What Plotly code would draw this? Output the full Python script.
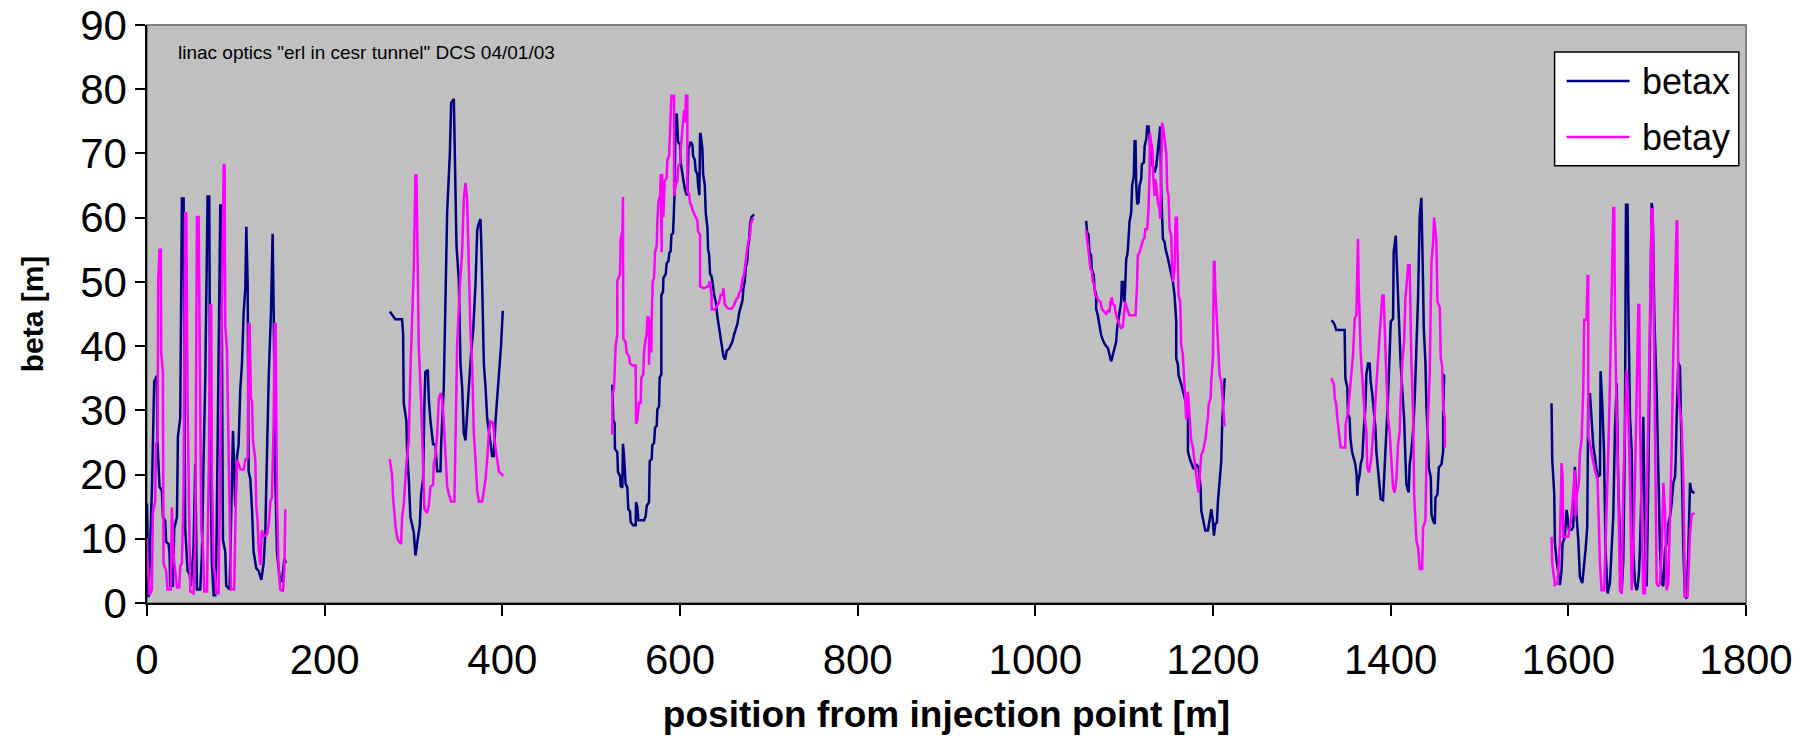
import plotly.graph_objects as go

# ---------------- data (position [m], beta [m]) ----------------
# segment 1
bx_pos_1 = [0, 1.7, 5.5, 8.1, 11.1, 11.8, 14.1, 16.8, 17.9, 20.5, 21.6, 24.3, 25.4, 26.1, 29.1, 30.7, 33.7, 34.8, 37.4, 38.2,
            39.3, 41.2, 41.9, 43.0, 45.7, 47.9, 49.4, 52.4, 54.3, 56.2, 59.9, 61.8, 63.7, 65.6, 68.2, 70.1, 71.2, 73.1, 75.0, 76.8,
            78.0, 79.9, 82.5, 83.6, 85.5, 88.1, 89.2, 93.0, 94.9, 96.8, 99.4, 101.3, 103.1, 105.0, 106.9, 108.8, 110.7, 111.8, 113.3, 114.4,
            116.3, 118.2, 120.0, 123.0, 125.7, 128.7, 131.3, 133.2, 134.3, 137.0, 139.6, 141.4, 142.6, 144.5, 146.3, 149.3, 151.9, 154.6, 156.5]
bx_val_1 = [15.5, 0.9, 17.5, 34.5, 35.4, 25.0, 18.1, 17.5, 13.4, 12.8, 9.5, 9.2, 7.7, 2.7, 2.7, 11.6, 13.4, 25.9, 28.8, 39.0,
            63.0, 63.0, 31.2, 11.6, 5.0, 4.5, 2.7, 8.6, 21.7, 2.1, 2.1, 7.4, 22.3, 34.8, 63.3, 63.3, 23.5, 6.2, 1.2, 1.2,
            6.2, 27.1, 61.9, 61.9, 9.8, 8.0, 2.7, 2.1, 15.0, 26.8, 15.0, 22.8, 24.6, 33.3, 37.2, 45.2, 49.1, 58.6, 49.7, 20.5,
            19.3, 14.6, 8.0, 5.4, 5.0, 3.6, 6.2, 11.0, 18.4, 35.1, 45.5, 57.5, 45.5, 19.3, 8.0, 3.8, 3.3, 6.9, 6.2]
by_pos_1 = [0, 0.6, 2.9, 5.5, 6.6, 9.2, 10.0, 11.9, 12.6, 14.1, 15.6, 16.0, 17.9, 18.6, 21.6, 23.1, 26.9, 28.0, 29.9, 31.0,
            33.7, 36.3, 37.4, 39.3, 41.2, 43.0, 44.2, 45.7, 47.2, 48.7, 52.4, 54.3, 56.2, 58.1, 59.9, 61.1, 63.0, 64.5, 67.5, 69.7,
            71.2, 72.3, 73.1, 75.0, 76.8, 78.0, 80.6, 82.5, 84.4, 86.3, 87.4, 88.1, 90.0, 91.9, 93.0, 94.5, 98.2, 99.8, 101.3, 103.1,
            105.0, 108.8, 110.7, 113.3, 114.4, 115.5, 117.0, 118.2, 119.3, 121.9, 123.0, 124.5, 125.7, 127.5, 129.4, 131.3, 135.1, 137.0, 138.8, 140.7,
            142.6, 143.7, 144.8, 146.3, 148.2, 150.1, 153.1, 154.6, 155.7]
by_val_1 = [10.1, 6.5, 1.2, 2.1, 14.0, 15.8, 24.7, 25.3, 50.3, 55.0, 55.0, 39.0, 36.0, 6.2, 5.0, 2.1, 2.1, 14.9, 7.4, 6.2,
            2.4, 2.4, 5.7, 6.2, 17.5, 60.7, 60.7, 31.2, 11.6, 1.8, 1.5, 9.2, 60.1, 60.1, 31.2, 11.6, 8.6, 1.8, 1.8, 22.3,
            46.4, 46.4, 19.3, 5.7, 4.5, 1.5, 1.5, 25.3, 55.0, 68.2, 68.2, 43.1, 39.5, 18.1, 14.6, 2.1, 2.1, 14.6, 22.3, 21.7,
            20.8, 20.8, 22.3, 22.6, 43.4, 43.4, 31.8, 31.5, 25.3, 22.3, 15.2, 12.8, 8.6, 5.9, 11.3, 10.4, 10.7, 12.2, 15.8, 16.4,
            28.3, 43.4, 43.4, 16.4, 5.0, 2.1, 1.8, 5.0, 14.6]

# segment 2
bx_pos_2 = [273.3, 275.9, 277.8, 279.6, 287.1, 288.3, 289.0, 292.0, 292.8, 294.7, 296.5, 300.3, 302.2, 303.3, 304.8, 307.1, 308.6, 310.8, 312.3, 313.4,
            316.1, 317.2, 319.1, 322.1, 324.7, 326.6, 330.4, 331.1, 334.1, 336.0, 337.9, 340.9, 342.4, 345.4, 346.5, 348.4, 351.0, 352.9, 354.8, 356.6,
            358.5, 360.4, 362.3, 364.9, 367.2, 369.8, 371.7, 373.6, 375.4, 376.5, 378.4, 379.2, 381.1, 382.9, 388.6, 390.4, 392.3, 396.1, 398.5, 400.5]
bx_val_2 = [45.4, 44.9, 44.6, 44.2, 44.2, 41.9, 31.2, 28.3, 23.5, 19.3, 13.4, 11.0, 7.4, 8.6, 10.4, 12.2, 17.0, 19.3, 31.2, 36.0,
            36.3, 31.8, 28.3, 24.7, 24.7, 20.5, 20.5, 24.7, 33.6, 46.1, 61.0, 69.9, 77.9, 78.5, 68.7, 55.6, 50.3, 37.2, 33.6, 26.5,
            25.3, 28.8, 33.6, 39.0, 42.5, 49.7, 58.0, 59.2, 59.8, 55.0, 44.3, 37.2, 33.6, 28.8, 22.9, 22.9, 28.3, 35.4, 40.0, 45.5]
by_pos_2 = [273.3, 275.9, 277.0, 278.9, 280.0, 282.3, 286.0, 287.2, 289.0, 292.0, 294.7, 296.5, 298.4, 300.3, 302.2, 303.3, 304.8, 305.9, 308.6, 310.8,
            312.3, 315.3, 317.2, 319.1, 322.1, 322.8, 324.7, 326.6, 328.5, 330.4, 332.2, 334.1, 336.0, 337.9, 339.7, 342.4, 346.1, 347.3, 349.1, 352.1,
            354.8, 356.6, 358.5, 360.4, 362.3, 364.2, 366.0, 367.9, 369.8, 371.7, 373.6, 377.3, 379.2, 381.1, 382.9, 384.8, 386.7, 389.7, 391.2, 393.5,
            396.1, 401.0]
by_val_2 = [22.4, 19.9, 16.4, 14.0, 11.6, 9.8, 9.2, 13.4, 15.2, 21.7, 25.3, 36.0, 43.1, 52.0, 66.6, 66.6, 52.0, 40.1, 31.2, 20.5,
            14.6, 14.0, 15.2, 18.1, 18.4, 21.7, 22.9, 26.2, 31.8, 32.7, 31.8, 28.3, 22.3, 18.1, 17.0, 15.8, 15.8, 25.3, 40.1, 49.1,
            55.0, 62.8, 65.4, 62.8, 52.6, 41.9, 37.2, 26.5, 22.3, 17.5, 15.8, 15.8, 17.5, 19.3, 22.3, 26.5, 28.3, 28.0, 25.3, 22.9,
            20.5, 19.8]

# segment 3
bx_pos_3 = [523.8, 524.9, 526.4, 526.8, 529.4, 530.2, 532.5, 533.2, 535.1, 535.8, 537.0, 538.8, 540.7, 541.8, 543.7, 544.5, 547.1, 550.1, 550.5, 552.0,
            553.1, 555.7, 559.5, 561.4, 562.5, 565.1, 565.9, 568.1, 568.9, 570.8, 571.9, 573.8, 574.5, 576.4, 577.1, 579.0, 579.0, 580.9, 581.3, 583.9,
            585.0, 586.9, 588.0, 589.5, 590.3, 592.2, 593.3, 594.1, 594.8, 596.3, 597.8, 600.1, 600.8, 602.7, 605.3, 607.6, 608.3, 609.5, 612.1, 614.0,
            614.7, 616.6, 617.7, 619.6, 620.3, 621.8, 622.6, 623.3, 625.2, 626.0, 627.9, 629.0, 630.9, 631.6, 632.7, 633.9, 635.4, 636.5, 638.4, 640.3,
            642.1, 644.0, 645.9, 647.8, 648.9, 650.8, 652.6, 655.3, 657.2, 659.0, 660.9, 662.8, 664.7, 666.5, 668.4, 670.3, 671.4, 672.9, 674.1, 675.9,
            676.7, 677.8, 678.9, 680.4, 683.4]
bx_val_3 = [34.0, 28.5, 28.0, 24.0, 23.5, 20.4, 19.8, 18.2, 18.0, 24.8, 22.8, 18.5, 18.0, 14.6, 14.3, 12.6, 12.1, 12.1, 15.7, 14.9,
            12.9, 12.9, 12.9, 13.5, 15.1, 15.7, 22.1, 22.4, 24.6, 24.9, 27.3, 27.6, 30.1, 30.6, 35.1, 35.6, 47.9, 48.5, 50.6, 51.2,
            52.9, 53.2, 54.5, 54.8, 57.3, 57.6, 61.2, 64.6, 75.7, 76.2, 71.8, 71.3, 68.5, 66.8, 64.6, 63.5, 63.7, 70.7, 71.8, 71.3,
            69.6, 69.0, 67.3, 66.8, 65.1, 63.5, 73.2, 72.9, 70.7, 66.8, 65.1, 60.7, 58.4, 55.1, 54.3, 51.2, 50.9, 50.1, 48.0, 46.8,
            44.6, 42.9, 40.7, 39.6, 38.4, 37.9, 39.3, 39.6, 40.1, 40.7, 41.8, 42.6, 43.5, 45.1, 46.2, 47.1, 49.0, 50.1, 52.3, 53.4,
            55.6, 56.4, 59.0, 60.1, 60.5]
by_pos_3 = [523.8, 523.8, 525.7, 527.6, 529.4, 529.4, 532.5, 533.2, 535.1, 535.8, 536.2, 538.8, 540.0, 542.6, 543.7, 546.4, 550.1, 550.5, 552.0, 553.9,
            555.7, 556.5, 558.7, 559.5, 561.4, 562.5, 563.3, 565.1, 565.1, 566.3, 567.8, 568.1, 569.3, 570.8, 571.9, 573.8, 574.5, 575.6, 577.5, 578.3,
            579.4, 579.8, 581.3, 582.0, 582.8, 585.0, 585.8, 587.7, 588.8, 590.3, 593.3, 593.3, 595.2, 597.1, 597.8, 600.1, 600.8, 602.7, 604.6, 605.7,
            606.8, 608.3, 608.3, 610.2, 611.3, 613.2, 614.0, 615.8, 617.7, 619.6, 620.3, 622.6, 622.6, 627.1, 631.6, 633.5, 635.4, 635.8, 639.1, 641.4,
            644.0, 645.9, 647.8, 648.9, 650.4, 653.4, 657.9, 660.2, 661.7, 663.5, 665.4, 666.5, 668.4, 669.2, 670.3, 672.2, 673.3, 675.2, 676.7, 678.9,
            679.7, 681.6, 683.4]
by_val_3 = [26.2, 32.3, 33.4, 40.1, 41.8, 50.1, 51.2, 56.8, 57.9, 63.2, 41.2, 40.6, 39.0, 38.4, 37.3, 37.0, 37.0, 27.9, 28.5, 31.2,
            31.2, 35.1, 35.6, 39.0, 41.2, 41.8, 44.6, 44.3, 37.1, 42.4, 39.0, 44.0, 50.1, 50.6, 54.6, 55.7, 59.5, 62.3, 63.4, 66.8,
            54.6, 66.8, 60.1, 62.3, 65.7, 66.2, 69.0, 69.6, 73.4, 79.0, 79.0, 63.4, 65.1, 65.7, 67.9, 68.5, 70.7, 74.6, 76.8, 74.8,
            79.0, 79.0, 64.0, 63.7, 62.3, 61.8, 61.2, 60.7, 60.1, 59.5, 57.9, 57.3, 49.3, 49.0, 49.3, 50.1, 48.0, 45.7, 45.7, 46.2,
            46.8, 48.0, 48.0, 49.0, 46.5, 45.9, 45.8, 46.2, 46.8, 47.3, 47.6, 48.2, 48.7, 49.6, 50.4, 51.2, 52.9, 54.6, 56.2, 57.3,
            59.0, 59.8, 59.8]

# segment 4
bx_pos_4 = [1057.2, 1058.3, 1059.8, 1061.0, 1062.8, 1063.6, 1065.8, 1066.6, 1068.5, 1068.5, 1070.3, 1072.2, 1074.1, 1076.7, 1078.6, 1081.6, 1083.5, 1085.4, 1087.2, 1089.1,
            1091.0, 1092.1, 1094.8, 1096.6, 1097.4, 1098.5, 1099.3, 1100.4, 1101.1, 1102.3, 1103.4, 1104.2, 1106.0, 1107.9, 1109.0, 1110.9, 1111.7, 1112.8, 1113.5, 1114.7,
            1116.2, 1117.3, 1119.2, 1119.9, 1122.2, 1123.0, 1124.8, 1126.0, 1127.4, 1128.6, 1130.4, 1132.3, 1134.2, 1136.1, 1138.0, 1139.8, 1140.6, 1141.7, 1142.5, 1143.6,
            1145.5, 1146.6, 1148.5, 1150.0, 1152.2, 1154.9, 1156.7, 1158.6, 1158.6, 1160.5, 1161.2, 1163.5, 1165.4, 1167.3, 1169.9, 1171.8, 1171.8, 1173.6, 1174.8, 1177.4,
            1179.3, 1181.2, 1183.8, 1184.9, 1186.0, 1186.8, 1188.7, 1189.8, 1191.3, 1194.3, 1196.2, 1198.1, 1199.9, 1201.0, 1202.6, 1204.4, 1205.6, 1207.4, 1209.3, 1210.4,
            1211.2, 1212.3, 1213.1]
bx_val_4 = [59.5, 57.7, 57.4, 54.6, 54.1, 52.0, 51.0, 49.0, 47.9, 45.8, 44.8, 43.3, 41.7, 40.7, 40.2, 39.7, 38.6, 37.6, 38.6, 39.7,
            40.7, 42.8, 45.8, 46.9, 50.0, 50.0, 47.9, 46.9, 49.0, 53.6, 54.1, 55.1, 59.3, 60.8, 65.0, 66.5, 71.9, 71.9, 65.5, 62.1,
            62.4, 65.0, 66.0, 68.3, 68.6, 71.1, 72.2, 74.2, 74.2, 72.2, 69.6, 68.0, 67.0, 68.0, 70.6, 72.2, 74.2, 64.4, 59.3, 56.7,
            56.2, 55.1, 54.1, 53.1, 52.0, 50.0, 47.9, 43.8, 38.1, 37.1, 35.5, 34.5, 33.5, 32.4, 30.9, 28.8, 23.6, 22.6, 22.1, 21.1,
            20.8, 21.6, 21.1, 19.3, 18.0, 14.4, 13.3, 12.3, 11.3, 11.3, 12.8, 14.6, 12.8, 10.5, 12.3, 12.5, 15.9, 19.0, 22.1, 28.3,
            30.4, 35.0, 35.0]
by_pos_4 = [1057.2, 1058.3, 1059.8, 1062.1, 1063.6, 1064.7, 1066.6, 1067.3, 1069.6, 1071.1, 1073.4, 1074.9, 1077.9, 1079.7, 1081.6, 1083.5, 1084.6, 1086.1, 1087.2, 1089.1,
            1090.3, 1092.1, 1094.8, 1096.6, 1098.5, 1099.6, 1101.1, 1103.4, 1106.0, 1109.0, 1112.8, 1114.3, 1115.4, 1117.3, 1119.2, 1121.0, 1122.9, 1123.7, 1125.9, 1127.4,
            1128.6, 1128.9, 1130.4, 1131.9, 1132.7, 1134.2, 1134.9, 1136.1, 1138.0, 1139.8, 1140.6, 1141.7, 1142.8, 1144.7, 1147.4, 1148.5, 1150.0, 1151.1, 1153.0, 1153.7,
            1154.9, 1156.7, 1157.9, 1159.4, 1160.5, 1161.2, 1163.1, 1164.2, 1166.1, 1168.0, 1169.9, 1169.9, 1171.8, 1173.6, 1175.5, 1177.4, 1179.3, 1181.2, 1182.3, 1183.8,
            1184.9, 1186.8, 1188.7, 1190.5, 1191.7, 1192.8, 1194.3, 1195.1, 1197.3, 1198.1, 1200.0, 1201.0, 1201.8, 1202.6, 1204.4, 1205.6, 1207.4, 1209.3, 1211.2, 1213.1]
by_val_4 = [58.0, 56.7, 54.6, 52.0, 51.7, 50.0, 49.5, 47.9, 47.6, 47.1, 46.9, 45.8, 45.3, 45.0, 45.5, 45.3, 46.9, 47.6, 46.6, 46.4,
            45.3, 44.3, 43.3, 42.8, 43.0, 44.8, 46.9, 45.8, 44.8, 44.8, 44.8, 49.0, 54.1, 54.6, 55.7, 56.4, 56.9, 58.2, 58.2, 61.3,
            67.0, 73.2, 71.7, 70.6, 66.5, 63.4, 66.0, 65.0, 62.4, 61.3, 59.8, 69.6, 74.8, 73.2, 70.1, 64.4, 63.4, 58.2, 57.2, 53.1,
            50.0, 52.0, 60.0, 60.0, 53.1, 47.9, 46.9, 40.2, 38.6, 34.5, 30.4, 28.6, 32.9, 29.3, 25.2, 24.2, 21.6, 19.5, 18.5, 17.2,
            19.0, 23.1, 23.6, 24.7, 25.7, 27.3, 28.8, 30.9, 31.9, 34.5, 38.6, 53.1, 53.1, 48.9, 43.8, 40.7, 35.5, 34.5, 30.9, 27.5]

# segment 5
bx_pos_5 = [1333.2, 1335.1, 1337.0, 1338.8, 1348.2, 1349.0, 1351.2, 1352.0, 1353.8, 1354.6, 1356.5, 1358.7, 1360.2, 1361.7, 1362.5, 1363.2, 1365.1, 1366.2, 1368.1, 1369.6,
            1371.5, 1372.6, 1374.5, 1376.4, 1377.5, 1379.4, 1381.3, 1382.8, 1383.9, 1385.8, 1387.6, 1388.8, 1391.4, 1392.5, 1394.0, 1395.2, 1397.0, 1398.9, 1400.1, 1402.7,
            1403.4, 1405.7, 1406.4, 1408.3, 1410.2, 1411.3, 1413.2, 1415.1, 1416.6, 1417.7, 1420.3, 1421.4, 1423.3, 1425.2, 1427.1, 1429.0, 1430.8, 1432.7, 1434.6, 1436.5,
            1437.3, 1439.1, 1440.3, 1442.2, 1442.9, 1445.2, 1445.9, 1447.8, 1449.7, 1450.4, 1452.7, 1454.2, 1457.2, 1459.1, 1459.1, 1460.2, 1460.9]
bx_val_5 = [44.0, 43.8, 43.3, 42.5, 42.5, 35.0, 33.5, 29.3, 28.8, 25.7, 23.6, 22.6, 21.6, 20.0, 16.7, 18.6, 20.0, 21.6, 22.6, 26.7,
            30.4, 35.5, 37.3, 37.3, 34.5, 32.4, 29.3, 27.3, 23.6, 20.5, 18.5, 16.2, 16.0, 19.0, 22.1, 26.7, 31.9, 39.1, 43.8, 44.3,
            54.6, 57.2, 54.6, 46.4, 42.2, 37.1, 32.9, 28.8, 22.6, 18.5, 17.2, 21.6, 23.6, 26.7, 31.9, 38.6, 47.4, 60.3, 63.1, 49.5,
            42.7, 37.6, 30.4, 24.7, 21.1, 19.5, 13.8, 12.8, 12.3, 16.4, 16.9, 21.1, 21.6, 23.6, 29.8, 35.5, 35.5]
by_pos_5 = [1333.2, 1336.2, 1337.0, 1338.8, 1340.0, 1341.4, 1342.6, 1343.7, 1348.9, 1349.3, 1352.0, 1353.8, 1355.7, 1357.6, 1359.5, 1361.4, 1363.2, 1364.0, 1366.2, 1367.7,
            1368.9, 1370.7, 1372.6, 1373.7, 1375.6, 1378.3, 1380.1, 1382.0, 1383.9, 1385.8, 1387.6, 1389.5, 1390.6, 1392.1, 1393.3, 1395.2, 1397.0, 1398.9, 1400.8, 1402.7,
            1404.5, 1406.4, 1408.3, 1410.2, 1411.3, 1413.2, 1415.1, 1416.6, 1418.8, 1419.6, 1421.4, 1422.2, 1423.3, 1424.5, 1425.5, 1426.4, 1429.0, 1430.9, 1432.8, 1435.4,
            1436.5, 1439.1, 1440.3, 1444.0, 1445.9, 1447.8, 1448.9, 1451.5, 1452.7, 1455.3, 1456.4, 1457.9, 1459.1, 1461.0, 1461.0]
by_val_5 = [35.0, 34.0, 31.9, 30.9, 28.8, 26.7, 25.7, 24.2, 24.2, 27.8, 29.8, 32.9, 36.0, 38.6, 44.3, 44.8, 56.7, 49.5, 39.1, 35.5,
            33.5, 29.3, 26.7, 21.1, 20.3, 22.6, 26.2, 29.3, 34.0, 38.1, 42.7, 45.6, 47.9, 47.9, 42.2, 35.0, 28.8, 26.7, 22.1, 18.0,
            17.2, 19.0, 24.7, 26.7, 31.9, 37.6, 40.7, 47.4, 51.0, 52.6, 52.6, 42.2, 37.6, 32.9, 28.0, 16.9, 9.7, 8.6, 5.3, 5.3,
            11.8, 12.8, 22.1, 36.0, 53.1, 56.2, 60.0, 56.2, 46.9, 46.0, 38.1, 37.0, 30.4, 28.8, 24.2]

# segment 6
bx_pos_6 = [1581.1, 1581.9, 1584.1, 1584.9, 1586.7, 1588.6, 1590.5, 1592.4, 1593.5, 1596.1, 1598.0, 1599.1, 1600.6, 1603.6, 1605.5, 1607.4, 1609.3, 1611.2, 1613.0, 1615.7,
            1616.8, 1619.4, 1621.3, 1622.4, 1624.3, 1626.2, 1628.1, 1629.9, 1631.8, 1633.7, 1635.6, 1636.3, 1638.2, 1640.1, 1641.9, 1644.2, 1646.8, 1648.7, 1650.6, 1652.5,
            1654.4, 1656.2, 1658.1, 1660.0, 1661.9, 1663.7, 1664.9, 1666.7, 1667.5, 1669.4, 1671.3, 1673.1, 1675.0, 1676.9, 1678.0, 1679.5, 1680.6, 1682.5, 1684.4, 1687.0,
            1688.2, 1690.0, 1691.9, 1693.8, 1694.9, 1696.8, 1699.4, 1701.3, 1703.2, 1705.1, 1706.9, 1708.8, 1710.7, 1712.6, 1714.5, 1716.3, 1718.2, 1720.1, 1720.8, 1722.0,
            1723.8, 1725.7, 1727.6, 1729.5, 1731.3, 1733.2, 1735.1, 1737.0, 1738.1, 1739.6, 1741.9]
bx_val_6 = [31.1, 22.3, 17.1, 9.3, 6.7, 5.1, 2.8, 5.1, 9.3, 10.3, 14.5, 13.5, 11.4, 11.4, 11.9, 21.2, 13.5, 9.8, 4.1, 3.1,
            4.6, 8.3, 11.9, 31.6, 32.7, 28.0, 24.4, 22.8, 20.7, 19.7, 19.9, 36.1, 31.1, 23.8, 8.3, 1.5, 3.1, 8.3, 13.5, 27.0,
            34.2, 18.7, 8.3, 1.5, 6.7, 26.4, 62.0, 62.0, 47.2, 29.0, 23.8, 8.3, 3.1, 2.0, 2.6, 4.6, 8.3, 18.7, 29.0, 3.1,
            2.6, 18.7, 44.6, 62.3, 61.3, 44.6, 33.2, 21.8, 8.3, 3.1, 2.6, 8.3, 9.3, 12.4, 13.5, 15.5, 18.7, 19.7, 21.8, 29.0,
            37.4, 36.8, 18.7, 8.3, 1.0, 0.7, 8.3, 18.7, 17.7, 17.3, 17.1]
by_pos_6 = [1581.1, 1581.9, 1584.9, 1587.9, 1590.5, 1592.4, 1593.5, 1594.3, 1596.1, 1599.9, 1601.8, 1603.6, 1605.5, 1607.4, 1608.1, 1609.3, 1611.9, 1613.0, 1614.9, 1616.8,
            1617.9, 1620.5, 1621.7, 1622.4, 1622.4, 1624.3, 1626.2, 1628.1, 1629.9, 1631.8, 1632.9, 1635.6, 1637.4, 1640.4, 1643.1, 1645.0, 1646.8, 1648.7, 1650.6, 1651.7,
            1652.5, 1654.4, 1656.2, 1658.1, 1660.0, 1661.9, 1663.7, 1665.6, 1667.5, 1669.4, 1671.3, 1673.1, 1675.0, 1676.9, 1678.8, 1679.9, 1680.6, 1682.5, 1684.4, 1686.3,
            1688.2, 1690.0, 1691.9, 1693.8, 1694.9, 1696.4, 1697.5, 1699.4, 1701.3, 1703.2, 1705.1, 1707.0, 1708.8, 1710.7, 1712.6, 1714.5, 1716.3, 1718.2, 1720.1, 1722.0,
            1722.7, 1723.8, 1725.7, 1727.6, 1729.5, 1731.3, 1734.3, 1737.0, 1738.8, 1741.9]
by_val_6 = [10.3, 6.2, 2.8, 3.1, 9.3, 21.8, 19.7, 10.3, 10.3, 10.3, 11.9, 13.5, 17.6, 20.7, 13.5, 16.6, 18.7, 23.3, 25.4, 33.2,
            44.1, 44.1, 50.9, 50.9, 25.9, 24.9, 23.3, 21.8, 20.7, 19.7, 19.2, 6.2, 2.0, 2.0, 13.5, 23.8, 34.2, 49.8, 61.5, 61.5,
            44.6, 29.0, 18.7, 2.0, 1.5, 18.7, 29.0, 36.3, 30.0, 18.7, 2.0, 8.3, 18.7, 34.2, 46.4, 46.4, 29.0, 13.5, 1.5, 1.5,
            13.5, 29.0, 44.6, 61.3, 61.3, 39.4, 18.7, 3.1, 2.6, 3.1, 8.3, 18.7, 14.5, 2.0, 3.1, 13.5, 23.8, 39.4, 50.9, 59.4,
            59.4, 32.7, 30.0, 28.0, 18.7, 1.0, 1.0, 10.9, 13.7, 14.0]

x_ticks = [0, 200, 400, 600, 800, 1000, 1200, 1400, 1600, 1800]
y_ticks = [0, 10, 20, 30, 40, 50, 60, 70, 80, 90]
series_names = ["betax", "betay"]
series_colors = ["#000080", "#FF00FF"]
note_text = 'linac optics "erl in cesr tunnel" DCS 04/01/03'


def join(parts):
    out = []
    for i, p in enumerate(parts):
        if i:
            out.append(None)
        out.extend(p)
    return out


bx_pos = join([bx_pos_1, bx_pos_2, bx_pos_3, bx_pos_4, bx_pos_5, bx_pos_6])
bx_val = join([bx_val_1, bx_val_2, bx_val_3, bx_val_4, bx_val_5, bx_val_6])
by_pos = join([by_pos_1, by_pos_2, by_pos_3, by_pos_4, by_pos_5, by_pos_6])
by_val = join([by_val_1, by_val_2, by_val_3, by_val_4, by_val_5, by_val_6])

FONT = "Arial, Liberation Sans, sans-serif"
LW = 2.5

fig = go.Figure()
fig.add_trace(go.Scatter(x=bx_pos, y=bx_val, mode="lines", name=series_names[0],
                         line=dict(color=series_colors[0], width=LW), connectgaps=False))
fig.add_trace(go.Scatter(x=by_pos, y=by_val, mode="lines", name=series_names[1],
                         line=dict(color=series_colors[1], width=LW), connectgaps=False))

# legend box drawn in axis-domain coordinates (Excel-style legend)
lg_x0, lg_x1, lg_y0, lg_y1 = 0.8803, 0.9955, 0.7565, 0.9533
line_x0, line_x1, text_x = 0.8878, 0.9272, 0.9334
row_y = [0.9031, 0.8062]

shapes = [
    dict(type="rect", xref="paper", yref="paper", x0=0, x1=1, y0=0, y1=1,
         line=dict(color="#808080", width=2), layer="below"),
    dict(type="rect", xref="x domain", yref="y domain", x0=lg_x0, x1=lg_x1, y0=lg_y0, y1=lg_y1,
         fillcolor="white", line=dict(color="black", width=1.5), layer="above"),
]
annotations = [
    dict(x=33, y=85.7, xref="x", yref="y", text=note_text,
         showarrow=False, xanchor="left", yanchor="middle",
         font=dict(size=19, family=FONT, color="black")),
]
for name, col, ry in zip(series_names, series_colors, row_y):
    shapes.append(dict(type="line", xref="x domain", yref="y domain", x0=line_x0, x1=line_x1,
                       y0=ry, y1=ry, line=dict(color=col, width=LW), layer="above"))
    annotations.append(dict(x=text_x, y=ry, xref="x domain", yref="y domain", text=name,
                            showarrow=False, xanchor="left", yanchor="middle",
                            font=dict(size=36, family=FONT, color="black")))

fig.update_layout(
    width=1816, height=739,
    margin=dict(l=147, r=70, t=25, b=136),
    paper_bgcolor="white",
    plot_bgcolor="#C0C0C0",
    font=dict(family=FONT, color="black"),
    showlegend=False,
    xaxis=dict(range=[0, 1800], tickmode="array", tickvals=x_ticks, automargin=False,
               ticks="outside", ticklen=11, tickwidth=1.5, tickcolor="black",
               showline=True, linecolor="black", linewidth=1.5,
               showgrid=False, zeroline=False, ticklabelstandoff=8,
               tickfont=dict(size=42, family=FONT),
               title=dict(text="<b>position from injection point [m]</b>",
                          font=dict(size=37, family=FONT), standoff=19)),
    yaxis=dict(range=[0, 90], tickmode="array", tickvals=y_ticks, automargin=False,
               ticks="outside", ticklen=10, tickwidth=1.5, tickcolor="black",
               showline=True, linecolor="black", linewidth=1.5,
               showgrid=False, zeroline=False,
               tickfont=dict(size=42, family=FONT),
               title=dict(text="<b>beta [m]</b>",
                          font=dict(size=30, family=FONT), standoff=28)),
    shapes=shapes,
    annotations=annotations,
)

fig.write_html("out.html", config={"displayModeBar": False},
               post_script="document.body.style.margin='0';document.body.style.overflow='hidden';")
